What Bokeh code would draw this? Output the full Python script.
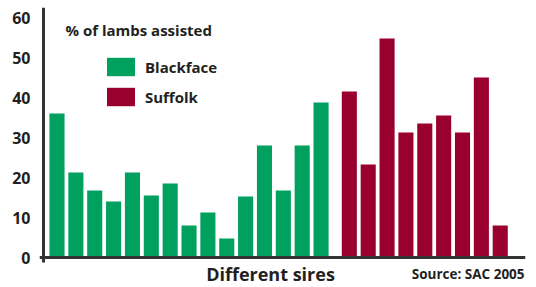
from bokeh.plotting import figure
from bokeh.models import ColumnDataSource, Span, Label, Legend, LegendItem, FixedTicker, Range1d
from bokeh.embed import file_html
from bokeh.resources import INLINE

blackface = [36, 21.25, 16.75, 14, 21.25, 15.5, 18.5, 8, 11.25, 4.75, 15.25, 28, 16.75, 28, 38.75]
suffolk = [41.5, 23.25, 54.75, 31.25, 33.5, 35.5, 31.25, 45, 8]
y_ticks = [0, 10, 20, 30, 40, 50, 60]

GREEN = "#00a05e"
RED = "#99002e"
INK = "#231f20"
AXIS = "#333333"
FONT = "Open Sans"

group_gap = 0.5
bx = list(range(len(blackface)))
sx = [len(blackface) + group_gap + i for i in range(len(suffolk))]

y0, y1 = -7.25, 62.5
p = figure(width=532, height=286, output_backend="svg", toolbar_location=None,
           x_range=Range1d(-0.928, 24.84), y_range=Range1d(y0, y1),
           min_border_left=39, min_border_right=7, min_border_top=7, min_border_bottom=0)
p.outline_line_color = None
p.grid.visible = False
p.xaxis.visible = False

ya = p.yaxis[0]
ya.ticker = FixedTicker(ticks=y_ticks)
ya.axis_line_color = None
ya.major_tick_line_color = None
ya.minor_tick_line_color = None
ya.major_tick_out = 0
ya.major_label_standoff = 9
ya.major_label_text_font = FONT
ya.major_label_text_font_style = "bold"
ya.major_label_text_font_size = "16px"
ya.major_label_text_color = INK

src_b = ColumnDataSource(dict(x=bx, top=blackface))
src_s = ColumnDataSource(dict(x=sx, top=suffolk))
rb = p.vbar(x="x", top="top", width=0.8, source=src_b, fill_color=GREEN, line_color=None)
rs = p.vbar(x="x", top="top", width=0.8, source=src_s, fill_color=RED, line_color=None)

# axis lines
p.add_layout(Span(location=0, dimension="width", line_color=AXIS, line_width=3))
p.segment(x0=[-0.716], y0=[-1.25], x1=[-0.716], y1=[y1], line_color=AXIS, line_width=3)

legend = Legend(items=[LegendItem(label="Blackface", renderers=[rb]),
                       LegendItem(label="Suffolk", renderers=[rs])],
                location=(64, 178), glyph_width=35, glyph_height=23, spacing=7,
                label_standoff=7, padding=0, margin=0, border_line_color=None,
                background_fill_alpha=0, label_text_font=FONT, label_text_font_style="bold",
                label_text_font_size="15px", label_text_color=INK, label_height=23)
p.add_layout(legend)

p.add_layout(Label(x=0.45, y=57, text="% of lambs assisted", text_font=FONT, text_font_style="bold",
                   text_font_size="15px", text_color=INK, text_baseline="middle", text_align="left"))
p.add_layout(Label(x=11.32, y=-4.0, text="Different sires", text_font=FONT, text_font_style="bold",
                   text_font_size="18px", text_color=INK, text_baseline="middle", text_align="center"))
p.add_layout(Label(x=24.79, y=-4.1, text="Source: SAC 2005", text_font=FONT, text_font_style="bold",
                   text_font_size="13.5px", text_color=INK, text_baseline="middle", text_align="right"))

open("out.html", "w").write(file_html(p, INLINE))
